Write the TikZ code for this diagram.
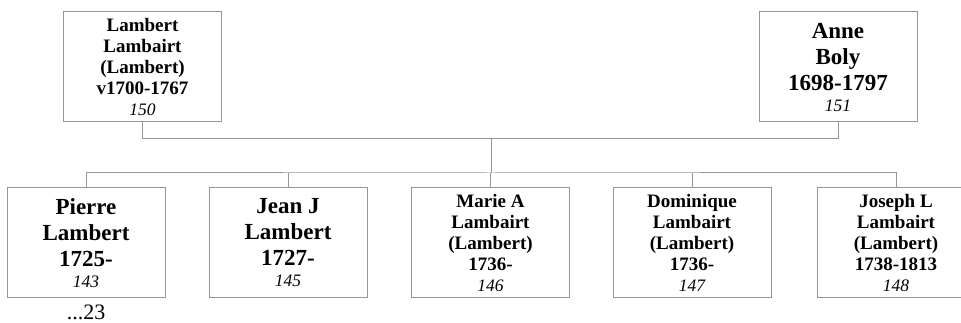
\documentclass[tikz,border=0pt]{standalone}
\usepackage{fontspec}
\setmainfont{Liberation Serif}
\definecolor{linec}{RGB}{150,150,150}
\tikzset{
  person/.style={draw=linec, line width=1pt, fill=white, minimum width=158pt, minimum height=110pt, inner sep=0pt, align=center, text=black},
  small/.style={person, font=\fontsize{19}{21}\selectfont\bfseries},
  big/.style={person, font=\fontsize{23}{26}\selectfont\bfseries},
  conn/.style={draw=linec, line width=1pt},
}
\newcommand{\refnum}[1]{{\fontsize{17.5}{21}\selectfont\mdseries\itshape #1}}
\begin{document}
\begin{tikzpicture}[x=1pt,y=1pt]
\useasboundingbox (0,0) rectangle (961,323);
\clip (0,0) rectangle (961,323);
% parents
\node[small] (L) at (142.5,256) {Lambert\\Lambairt\\(Lambert)\\v1700-1767\\\refnum{150}};
\node[big] (A) at (838,256) {Anne\\Boly\\1698-1797\\[-5pt]\refnum{151}};
% children
\node[big] (P) at (86,80) {Pierre\\Lambert\\1725-\\[-5pt]\refnum{143}};
\node[big] (J) at (288,80) {Jean J\\Lambert\\1727-\\[-5pt]\refnum{145}};
\node[small] (M) at (490.5,80) {Marie A\\Lambairt\\(Lambert)\\1736-\\\refnum{146}};
\node[small] (D) at (692,80) {Dominique\\Lambairt\\(Lambert)\\1736-\\\refnum{147}};
\node[small] (Jo) at (896,80) {Joseph L\\Lambairt\\(Lambert)\\1738-1813\\\refnum{148}};
\node[font=\fontsize{22}{24}\selectfont] (more) at (86,11) {...23};
% connectors
\coordinate (cpl) at (491,185);
\coordinate (sib) at (491,150);
\draw[conn] (L.south) -- ++(0,-16) -| (A.south);
\draw[conn] (cpl) -- (sib);
\draw[conn] (P.north) |- (sib) -| (Jo.north);
\draw[conn] (J.north) -- (J.north |- sib);
\draw[conn] (M.north) -- (M.north |- sib);
\draw[conn] (D.north) -- (D.north |- sib);
\end{tikzpicture}
\end{document}
